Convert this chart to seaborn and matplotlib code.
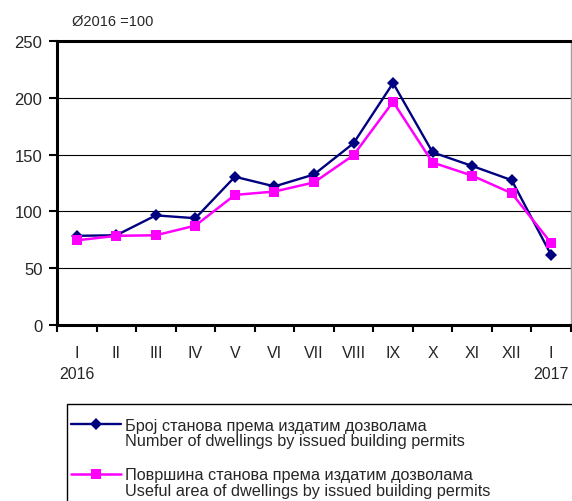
import numpy as np
import pandas as pd
import matplotlib
matplotlib.use("Agg")
import matplotlib.pyplot as plt
import matplotlib.patches as mpatches
from matplotlib.legend_handler import HandlerLine2D
import seaborn as sns

# index values, average 2016 = 100
months = ["I", "II", "III", "IV", "V", "VI", "VII", "VIII", "IX", "X", "XI", "XII", "I"]
years = {0: "2016", 12: "2017"}
dwellings = [78.5, 79, 96.5, 94, 130.5, 122, 132.5, 160, 213, 152, 140, 127.5, 61.5]
useful_area = [74.5, 78.5, 79, 87.5, 114.5, 117.5, 125.5, 149.5, 196.5, 143, 131.5, 116, 72]
label_dwellings = "Број станова према издатим дозволама\nNumber of dwellings by issued building permits"
label_area = "Површина станова према издатим дозволама\nUseful area of dwellings by issued building permits"


class FirstLineHandler(HandlerLine2D):
    # put the legend line next to the first line of a two-line label
    def create_artists(self, legend, orig_handle, xdescent, ydescent, width, height, fontsize, trans):
        return super().create_artists(legend, orig_handle, xdescent, ydescent - 1.15 * fontsize,
                                      width, height, fontsize, trans)


sns.set_style("white")
plt.rcParams['font.family'] = ['Liberation Sans', 'DejaVu Sans']

df = pd.DataFrame({'pos': np.arange(len(months)), 'dw': dwellings, 'ar': useful_area})

fig = plt.figure(figsize=(5.72, 5.02), dpi=100)
ax = fig.add_axes([57 / 572, 1 - 326 / 502, 514 / 572, 284 / 502])

sns.lineplot(data=df, x='pos', y='dw', ax=ax, color='#000080', linewidth=1.7,
             marker='D', markersize=6.2, markeredgewidth=0, label=label_dwellings)
sns.lineplot(data=df, x='pos', y='ar', ax=ax, color='#FF00FF', linewidth=1.8,
             marker='s', markersize=6.6, markeredgewidth=0, label=label_area)

ax.set_xlim(-0.5, len(months) - 0.5)
ax.set_ylim(0, 250)
ax.set_yticks(np.arange(0, 251, 50))
ax.yaxis.grid(True, color='black', linewidth=0.8)
ax.set_axisbelow(True)
ax.set_xlabel('')
ax.set_ylabel('')

# ticks at category boundaries, labels at category centres
ax.set_xticks(np.arange(-0.5, len(months), 1.0))
ax.set_xticklabels([])
ax.set_xticks(np.arange(len(months)), minor=True)
ax.set_xticklabels(months, minor=True, fontsize=11.5)
ax.tick_params(axis='x', which='major', direction='out', length=5, width=1.5, color='black', bottom=True)
ax.tick_params(axis='x', which='minor', length=0, pad=14.5, bottom=True)
ax.tick_params(axis='y', direction='out', length=6, width=1.5, color='black', left=True, labelsize=12, pad=4.5)

for pos, yr in years.items():
    ax.text(pos, -49 / 284, yr, transform=ax.get_xaxis_transform(), ha='center', va='center', fontsize=11.5)

for s in ['left', 'bottom', 'top']:
    ax.spines[s].set_color('black')
    ax.spines[s].set_linewidth(2.2)
ax.spines['right'].set_color('#a0a0a0')
ax.spines['right'].set_linewidth(1)

fig.text(72 / 572, 1 - 22 / 502, 'Ø2016 =100', fontsize=10.5, va='center', ha='left')

# legend frame runs off the bottom and right of the picture
fig.patches.append(mpatches.Rectangle((67 / 572, -0.1), 0.95, 1 - 405 / 502 + 0.1,
                                      transform=fig.transFigure, fill=False,
                                      edgecolor='black', linewidth=1))

ax.get_legend().remove()
handles, labels = ax.get_legend_handles_labels()
leg = fig.legend(handles, labels, loc='upper left',
                 bbox_to_anchor=(71 / 572, 1 - 418.5 / 502),
                 fontsize=11.7, frameon=False, handlelength=3.05, handletextpad=0.28,
                 labelspacing=1.15, borderpad=0, borderaxespad=0,
                 handler_map={h: FirstLineHandler() for h in handles})
for t in leg.get_texts():
    t.set_linespacing(1.08)

fig.savefig('out.png', dpi=100)
